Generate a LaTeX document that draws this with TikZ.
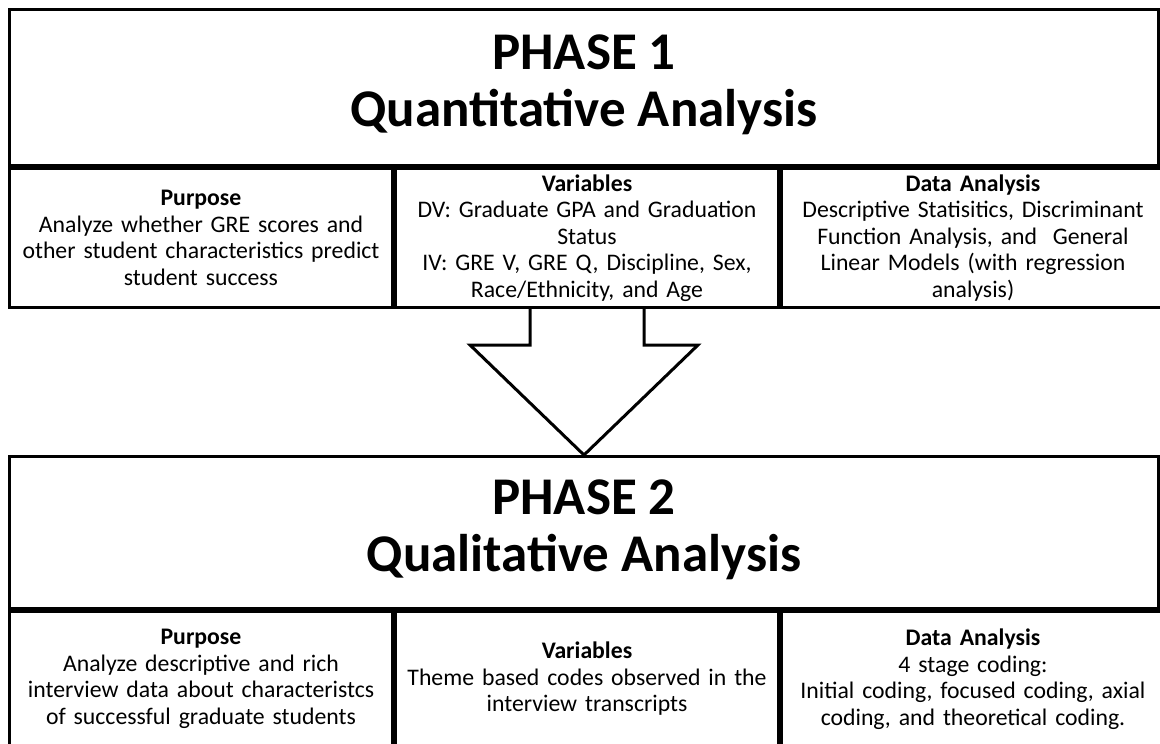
\documentclass[tikz,border=0pt]{standalone}
\usepackage{fontspec}
\setmainfont{Carlito}
\usetikzlibrary{positioning}
\tikzstyle{every path}=[line width=3pt]
\tikzstyle{titlebox}=[draw, line width=3pt, anchor=north west, minimum width=1149pt, inner sep=0pt, text depth=14pt, align=center, font=\fontsize{53}{57}\selectfont\bfseries]
\tikzstyle{cellbox}=[draw, line width=3pt, anchor=north west, minimum width=383pt, inner sep=0pt, text width=380pt, align=center, font=\fontsize{23.75}{26.5}\selectfont]

\begin{document}
\begin{tikzpicture}[x=1pt, y=-1pt]
            \useasboundingbox (0,0) rectangle (1160,744);

            \node[titlebox, minimum height=156pt] (p1title) at (8,8) {PHASE 1\\Quantitative Analysis};
            \node[cellbox, minimum height=139pt] (p1purpose) at (p1title.south west)
                {\textbf{Purpose}\\Analyze whether GRE scores and\\other student characteristics predict\\student success};
            \node[cellbox, minimum height=139pt] (p1vars) at (p1purpose.north east)
                {\textbf{Variables}\\DV: Graduate GPA and Graduation\\Status\\IV: GRE V, GRE Q, Discipline, Sex,\\Race/Ethnicity, and Age};
            \node[cellbox, minimum height=139pt] (p1data) at (p1vars.north east)
                {\textbf{Data Analysis}\\Descriptive Statisitics, Discriminant\\Function Analysis, and\ \ General\\Linear Models (with regression\\analysis)};

            \node[titlebox, minimum height=152pt] (p2title) at (8,455) {PHASE 2\\Qualitative Analysis};
            \node[cellbox, minimum height=135pt] (p2purpose) at (p2title.south west)
                {\textbf{Purpose}\\Analyze descriptive and rich\\interview data about characteristcs\\of successful graduate students};
            \node[cellbox, minimum height=135pt] (p2vars) at (p2purpose.north east)
                {\textbf{Variables}\\Theme based codes observed in the\\interview transcripts};
            \node[cellbox, minimum height=135pt] (p2data) at (p2vars.north east)
                {\textbf{Data Analysis}\\4 stage coding:\\Initial coding, focused coding, axial\\coding, and theoretical coding.};

            \coordinate (shaftleft) at ([xshift=-57pt]p1vars.south);
            \coordinate (shaftright) at ([xshift=57pt]p1vars.south);
            \coordinate (headleft) at ([xshift=-114pt,yshift=110pt]p2title.north);
            \coordinate (headright) at ([xshift=114pt,yshift=110pt]p2title.north);
            \draw[fill=white] (shaftleft) -- (shaftleft |- headleft) -- (headleft)
                -- (p2title.north) -- (headright) -- (shaftright |- headright) -- (shaftright);
        \end{tikzpicture}
\end{document}
